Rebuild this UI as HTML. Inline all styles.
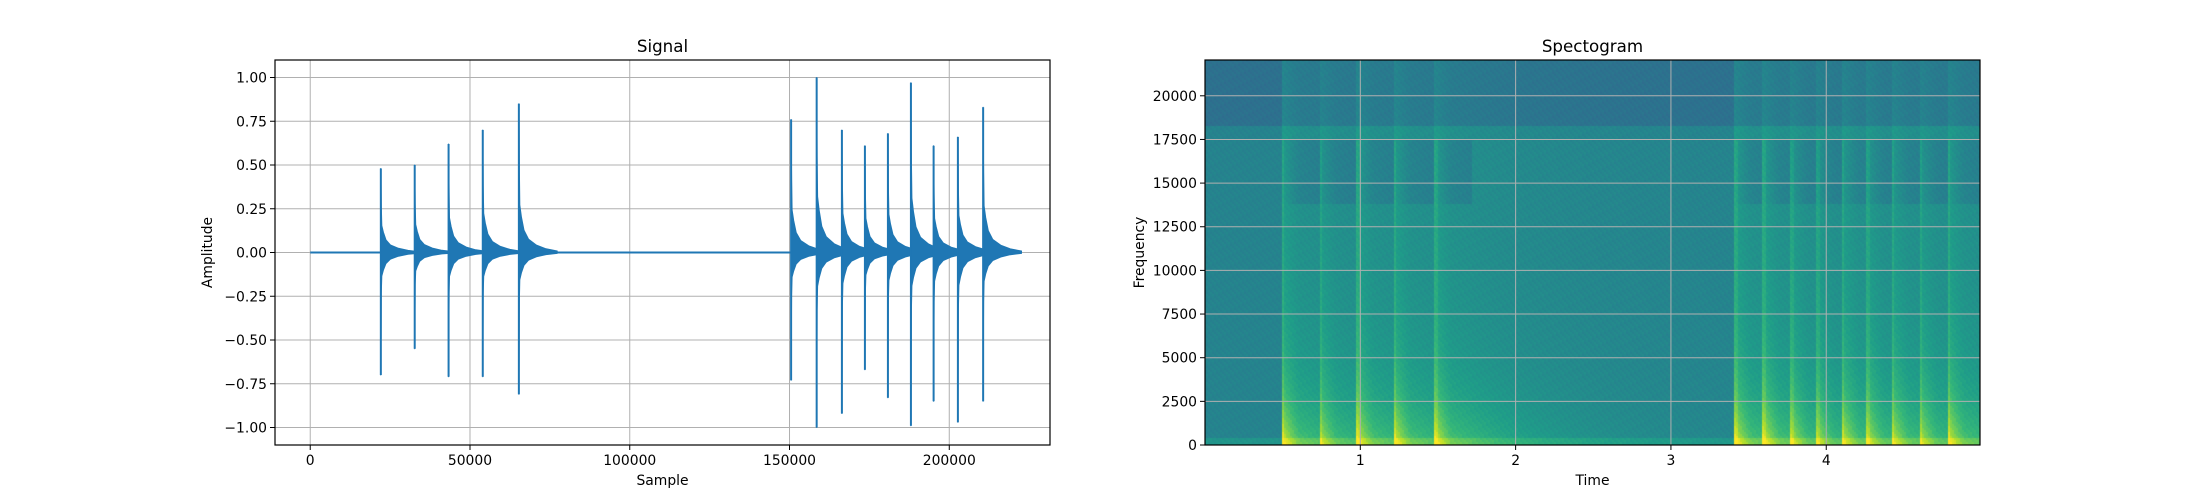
<!DOCTYPE html>
<html><head><meta charset="utf-8"><style>
html,body{margin:0;padding:0;background:#fff;width:2200px;height:500px;overflow:hidden}
#wrap{position:relative;width:2200px;height:500px}
canvas,svg{position:absolute;left:0;top:0}
text{font-family:"DejaVu Sans","Liberation Sans",sans-serif}
</style></head><body>
<div id="wrap">
<canvas id="spec" width="775" height="385" style="left:1205px;top:60px"></canvas>
<svg id="fig" width="2200" height="500"></svg>
</div>
<script>
// ---- Signal data ----
const hitSamples=[22100,32700,43300,54000,65300,150500,158500,166400,173600,180800,188000,195100,202700,210600];
const hitPos=[0.48,0.50,0.62,0.70,0.85,0.76,1.00,0.70,0.61,0.68,0.97,0.61,0.66,0.83];
const hitNeg=[-0.70,-0.55,-0.71,-0.71,-0.81,-0.73,-1.00,-0.92,-0.67,-0.83,-0.99,-0.85,-0.97,-0.85];
const decayOffsets=[0,150,300,800,1600,3000,5500,8500,12000];
const decayFracs=[1,0.55,0.32,0.24,0.15,0.09,0.05,0.025,0.01];
const signalEnd=220500;
const sigXTicks=[0,50000,100000,150000,200000];
const sigYTicks=[1.0,0.75,0.5,0.25,0,-0.25,-0.5,-0.75,-1.0];
// ---- Spectrogram data ----
const specHitTimes=[0.50,0.74,0.98,1.22,1.48,3.41,3.59,3.77,3.94,4.10,4.26,4.42,4.60,4.78];
const specHitStrength=[1.0,0.9,1.0,1.0,1.0,1.0,1.0,0.9,0.85,0.95,0.9,0.95,0.9,1.0];
const specXTicks=[1,2,3,4];
const specYTicks=[0,2500,5000,7500,10000,12500,15000,17500,20000];

const NS='http://www.w3.org/2000/svg';
const svg=document.getElementById('fig');
function mk(tag,attrs,parent){const e=document.createElementNS(NS,tag);for(const k in attrs)e.setAttribute(k,attrs[k]);(parent||svg).appendChild(e);return e;}
const fmtMinus=s=>s.replace('-','\u2212');

const A1={l:275,r:1050,t:60,b:445};
const sx=v=>A1.l+(v-(-11025))/(242550)*(A1.r-A1.l);
const sy=v=>A1.b-(v+1.1)/2.2*(A1.b-A1.t);
const g1=mk('g',{});


sigXTicks.forEach(v=>mk('line',{x1:sx(v),x2:sx(v),y1:A1.t,y2:A1.b,stroke:'#b0b0b0','stroke-width':1},g1));
sigYTicks.forEach(v=>mk('line',{x1:A1.l,x2:A1.r,y1:sy(v),y2:sy(v),stroke:'#b0b0b0','stroke-width':1},g1));
const wg=mk('g',{});


const bl=mk('line',{x1:sx(0),x2:sx(signalEnd),y1:sy(0),y2:sy(0),stroke:'#1f77b4','stroke-width':2},wg);


hitSamples.forEach((s,i)=>{
  let up=[],dn=[];
  decayOffsets.forEach((o,j)=>{
    const f=decayFracs[j];
    up.push(sx(s+o).toFixed(1)+','+sy(hitPos[i]*(j==0?1:f)).toFixed(1));
    dn.push(sx(s+o).toFixed(1)+','+sy(hitNeg[i]*(j==0?1:f*0.6)).toFixed(1));
  });
  const p=mk('polygon',{points:up.concat(dn.reverse()).join(' '),fill:'#1f77b4',stroke:'#1f77b4','stroke-width':1,'stroke-linejoin':'round'},wg);
  
  
  const ln=mk('line',{x1:sx(s),x2:sx(s),y1:sy(hitPos[i]),y2:sy(hitNeg[i]),stroke:'#1f77b4','stroke-width':2},wg);
  
  
});
const f1=mk('rect',{x:A1.l,y:A1.t,width:A1.r-A1.l,height:A1.b-A1.t,fill:'none',stroke:'#000','stroke-width':1.2});


sigXTicks.forEach(v=>{
  mk('line',{x1:sx(v),x2:sx(v),y1:A1.b,y2:A1.b+5,stroke:'#000','stroke-width':1});
  const t=mk('text',{x:sx(v),y:A1.b+20,'font-size':13.9,'text-anchor':'middle'});t.textContent=String(v);
  
});
sigYTicks.forEach(v=>{
  mk('line',{x1:A1.l-5,x2:A1.l,y1:sy(v),y2:sy(v),stroke:'#000','stroke-width':1});
  const t=mk('text',{x:A1.l-8,y:sy(v)+5,'font-size':13.9,'text-anchor':'end'});t.textContent=fmtMinus(v.toFixed(2));
  
});
let t=mk('text',{x:(A1.l+A1.r)/2,y:52,'font-size':16.7,'text-anchor':'middle'});t.textContent='Signal';

t=mk('text',{x:(A1.l+A1.r)/2,y:485,'font-size':13.9,'text-anchor':'middle'});t.textContent='Sample';

t=mk('text',{x:0,y:0,'font-size':13.9,'text-anchor':'middle',transform:'translate(212,'+((A1.t+A1.b)/2)+') rotate(-90)'});t.textContent='Amplitude';


// Spectrogram
const A2={l:1205,r:1980,t:60,b:445};
const XMAX=4.99,FMAX=22050;
const tx=v=>A2.l+v/XMAX*(A2.r-A2.l);
const fy=v=>A2.b-v/FMAX*(A2.b-A2.t);
const VIR=[[68,1,84],[72,40,120],[62,73,137],[49,104,142],[38,130,142],[31,158,137],[53,183,121],[109,205,89],[180,222,44],[253,231,37]];
function vir(v){v=Math.max(0,Math.min(1,v));const p=v*9,i=Math.min(8,Math.floor(p)),f=p-i;const a=VIR[i],b=VIR[i+1];return 'rgb('+a.map((c,k)=>Math.round(c+(b[k]-c)*f)).join(',')+')';}
const cv=document.getElementById('spec'),ctx=cv.getContext('2d');
const NT=388,NF=193;
for(let i=0;i<NT;i++){
  const tm=(i+0.5)/NT*XMAX;
  const inSeg=(tm>0.5&&tm<1.72)||(tm>3.41);
  let act=0,stripe=0;
  specHitTimes.forEach((h,k)=>{const d=tm-h;if(d>=0){
    act=Math.max(act,specHitStrength[k]*Math.exp(-d/0.16),0.6*specHitStrength[k]*Math.exp(-d/0.6));
    if(d<0.02)stripe+=specHitStrength[k];}});
  for(let j=0;j<NF;j++){
    const f=(j+0.5)/NF*FMAX;
    let v= f>18300?0.37:0.45;
    if(f<400) v=0.52;
    const g=0.08+0.42*Math.exp(-f/2500)+0.08*Math.exp(-f/12000);
    v+=act*g;
    if(inSeg&&f>13800&&f<17500) v-=0.1*(1-act);
    if(f<17500) v+=stripe*0.05;
    v+=(((i*37+j*91)%11)-5)*0.004;
    ctx.fillStyle=vir(v);
    const x0=Math.floor(i/NT*775),x1=Math.floor((i+1)/NT*775);
    const y1=385-Math.floor(j/NF*385),y0=385-Math.floor((j+1)/NF*385);
    ctx.fillRect(x0,y0,x1-x0,y1-y0);
  }
}
const g2=mk('g',{});


specXTicks.forEach(v=>mk('line',{x1:tx(v),x2:tx(v),y1:A2.t,y2:A2.b,stroke:'#b0b0b0','stroke-width':1},g2));
specYTicks.forEach(v=>mk('line',{x1:A2.l,x2:A2.r,y1:fy(v),y2:fy(v),stroke:'#b0b0b0','stroke-width':1},g2));
const f2=mk('rect',{x:A2.l,y:A2.t,width:A2.r-A2.l,height:A2.b-A2.t,fill:'none',stroke:'#000','stroke-width':1.2});


specXTicks.forEach(v=>{
  mk('line',{x1:tx(v),x2:tx(v),y1:A2.b,y2:A2.b+5,stroke:'#000','stroke-width':1});
  const t=mk('text',{x:tx(v),y:A2.b+20,'font-size':13.9,'text-anchor':'middle'});t.textContent=String(v);
  
});
specYTicks.forEach(v=>{
  mk('line',{x1:A2.l-5,x2:A2.l,y1:fy(v),y2:fy(v),stroke:'#000','stroke-width':1});
  const t=mk('text',{x:A2.l-8,y:fy(v)+5,'font-size':13.9,'text-anchor':'end'});t.textContent=String(v);
  
});
t=mk('text',{x:(A2.l+A2.r)/2,y:52,'font-size':16.7,'text-anchor':'middle'});t.textContent='Spectogram';

t=mk('text',{x:(A2.l+A2.r)/2,y:485,'font-size':13.9,'text-anchor':'middle'});t.textContent='Time';

t=mk('text',{x:0,y:0,'font-size':13.9,'text-anchor':'middle',transform:'translate(1144,'+((A2.t+A2.b)/2)+') rotate(-90)'});t.textContent='Frequency';

</script>
</body></html>
